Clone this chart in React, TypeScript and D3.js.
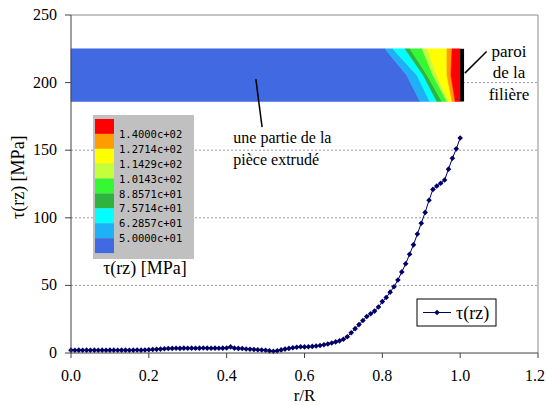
import React from "react";
import { scaleLinear, line } from "d3";

// r/R positions of the measured points (step 0.01)
const rValues: number[] = Array.from({ length: 101 }, (_, i) => +(i / 100).toFixed(2));
// tau(rz) in MPa
const tauValues: number[] = [
  2.1, 2.0, 2.1, 2.0, 2.1, 2.0, 2.1, 2.0, 2.1, 2.0,
  2.1, 2.1, 2.0, 2.1, 2.1, 2.0, 2.1, 2.2, 2.1, 2.2,
  2.4, 2.6, 2.7, 2.9, 3.1, 3.3, 3.4, 3.5, 3.4, 3.6,
  3.5, 3.6, 3.5, 3.6, 3.7, 3.6, 3.5, 3.6, 3.5, 3.6,
  3.7, 4.5, 3.6, 3.4, 3.3, 3.0, 2.8, 2.6, 2.4, 2.2,
  2.0, 1.6, 1.3, 1.6, 2.3, 2.9, 3.4, 3.9, 4.3, 4.6,
  4.5, 4.6, 4.9, 5.2, 5.6, 6.1, 6.7, 7.4, 8.2, 9.0,
  10.2, 12.0, 15.0, 18.0, 21.0, 24.0, 27.0, 29.0, 31.0, 34.0,
  38.0, 41.0, 45.0, 49.0, 54.0, 60.0, 66.0, 73.0, 80.0, 88.0,
  96.0, 104.0, 113.0, 121.0, 123.5, 125.5, 128.0, 136.0, 144.0, 151.0,
  159.0,
];

const yTicks = [0, 50, 100, 150, 200, 250];
const xTicks = [0, 0.2, 0.4, 0.6, 0.8, 1.0, 1.2];

// contour legend (top to bottom)
const levelColors = [
  "#ff0000", "#ff9d00", "#ffff00", "#c3ff3a", "#33f833",
  "#2eb43e", "#00ffff", "#1fb1f6", "#4169e1",
];
const levelLabels = [
  "1.4000c+02", "1.2714c+02", "1.1429c+02", "1.0143c+02",
  "8.8571c+01", "7.5714c+01", "6.2857c+01", "5.0000c+01",
];

// contour band boundaries in r/R, read at top / middle / bottom of the strip
// order: blue -> light blue -> cyan -> dark green -> green -> yellow-green -> yellow -> orange -> red
const bandTop = [0.807, 0.827, 0.858, 0.871, 0.902, 0.915, 0.966, 0.979, 1.0];
const bandMid = [0.863, 0.889, 0.905, 0.915, 0.93, 0.94, 0.966, 0.976, 1.0];
const bandBot = [0.897, 0.922, 0.94, 0.953, 0.966, 0.971, 0.979, 0.987, 1.0];
const stripTau = [225, 205.5, 186];

const serif = "Liberation Serif";

const width = 547;
const height = 405;
const marginLeft = 71;
const marginRight = 9;
const marginTop = 15;
const marginBottom = 52;

const App = () => {
  const x = scaleLinear().domain([0, 1.2]).range([marginLeft, width - marginRight]);
  const y = scaleLinear().domain([0, 250]).range([height - marginBottom, marginTop]);

  const pts = rValues.map((r, i) => [r, tauValues[i]] as [number, number]);
  const path = line<[number, number]>()
    .x((d) => x(d[0]))
    .y((d) => y(d[1]))(pts) as string;

  const bandsUp = levelColors.slice().reverse();
  const edge = (i: number) => (i < 0 ? [0, 0, 0] : [bandTop[i], bandMid[i], bandBot[i]]);
  const bandPath = (i: number) => {
    const l = edge(i - 1);
    const r = edge(i);
    const p = [
      [l[0], stripTau[0]],
      [r[0], stripTau[0]],
      [r[1], stripTau[1]],
      [r[2], stripTau[2]],
      [l[2], stripTau[2]],
      [l[1], stripTau[1]],
    ];
    return "M" + p.map((q) => `${x(q[0])},${y(q[1])}`).join("L") + "Z";
  };

  const m = 2.8;
  const diamond = `M0,${-m}L${m},0L0,${m}L${-m},0Z`;
  const boxH = 14.9;

  return (
    <svg
      width={width}
      height={height}
      style={{ position: "absolute", left: 0, top: 0, background: "#fff" }}
    >
      {/* gridlines */}
      {yTicks
        .filter((d) => d > 0 && d < 250)
        .map((d) => (
          <line
            key={d}
            x1={x(0)}
            x2={x(1.2)}
            y1={y(d)}
            y2={y(d)}
            stroke="#999"
            strokeDasharray="2,2"
          />
        ))}
      <path
        d={`M${x(0)},${y(250)}H${x(1.2)}V${y(0)}`}
        fill="none"
        stroke="#8c8c8c"
      />

      {/* contour strip */}
      {bandsUp.map((c, i) => (
        <path key={c} d={bandPath(i)} fill={c} stroke={c} strokeWidth={0.5} />
      ))}
      <rect
        x={x(1.0)}
        y={y(stripTau[0])}
        width={x(1.01) - x(1.0)}
        height={y(stripTau[2]) - y(stripTau[0])}
        fill="#000"
      />

      {/* annotations */}
      <line x1={x(0.475)} y1={y(202.5)} x2={x(0.491)} y2={y(167)} stroke="#000" strokeWidth={1.5} />
      <text fontFamily={serif} fontSize={16} fill="#000">
        <tspan x={x(0.417)} y={143}>une partie de la</tspan>
        <tspan x={x(0.417)} y={165}>pièce extrudé</tspan>
      </text>
      <line x1={x(1.012)} y1={y(207)} x2={x(1.068)} y2={y(223)} stroke="#000" strokeWidth={1.5} />
      <text fontFamily={serif} fontSize={17} textAnchor="middle" fill="#000">
        <tspan x={509} y={57}>paroi</tspan>
        <tspan x={509} y={78}>de la</tspan>
        <tspan x={509} y={100}>filière</tspan>
      </text>

      {/* colour legend */}
      <g transform="translate(93,115)">
        <rect width={101} height={144} fill="#c0c0c0" />
        {levelColors.map((c, i) => (
          <rect key={c} x={2} y={4 + i * boxH} width={19} height={boxH} fill={c} />
        ))}
        {levelLabels.map((t, i) => (
          <text
            key={t}
            x={26}
            y={4 + (i + 1) * boxH + 4}
            fontFamily="DejaVu Sans Mono"
            fontSize={10.5}
            fill="#000"
          >
            {t}
          </text>
        ))}
      </g>
      <text x={145} y={274} textAnchor="middle" fontFamily={serif} fontSize={18}>
        τ(rz) [MPa]
      </text>

      {/* series */}
      <path d={path} fill="none" stroke="#000066" strokeWidth={1} />
      {pts.map((d, i) => (
        <path key={i} d={diamond} transform={`translate(${x(d[0])},${y(d[1])})`} fill="#000066" />
      ))}

      {/* axes */}
      <line x1={x(0)} x2={x(0)} y1={y(250)} y2={y(0)} stroke="#404040" />
      <line x1={x(0)} x2={x(1.2)} y1={y(0)} y2={y(0)} stroke="#404040" />
      {yTicks.map((d) => (
        <g key={d}>
          <line x1={x(0) - 6} x2={x(0)} y1={y(d)} y2={y(d)} stroke="#404040" />
          <text
            x={x(0) - 14}
            y={y(d) + 5}
            textAnchor="end"
            fontFamily={serif}
            fontSize={16}
          >
            {d}
          </text>
        </g>
      ))}
      {xTicks.map((d) => (
        <g key={d}>
          <line x1={x(d)} x2={x(d)} y1={y(0)} y2={y(0) + 5} stroke="#404040" />
          <text
            x={d === 1.2 ? x(d) - 3 : x(d)}
            y={381}
            textAnchor="middle"
            fontFamily={serif}
            fontSize={16}
          >
            {d.toFixed(1)}
          </text>
        </g>
      ))}
      <text x={x(0.6)} y={401} textAnchor="middle" fontFamily={serif} fontSize={17}>
        r/R
      </text>
      <text
        transform={`translate(24,${y(130)}) rotate(-90)`}
        textAnchor="middle"
        fontFamily={serif}
        fontSize={18}
      >
        τ(rz) [MPa]
      </text>

      {/* series legend */}
      <g transform="translate(417,299)">
        <rect width={79} height={27} fill="#fff" stroke="#000" />
        <line x1={6} x2={34} y1={13.5} y2={13.5} stroke="#000066" />
        <path d={diamond} transform="translate(20,13.5)" fill="#000066" />
        <text x={39} y={19.5} fontFamily={serif} fontSize={18}>
          τ(rz)
        </text>
      </g>
    </svg>
  );
};

export default App;
